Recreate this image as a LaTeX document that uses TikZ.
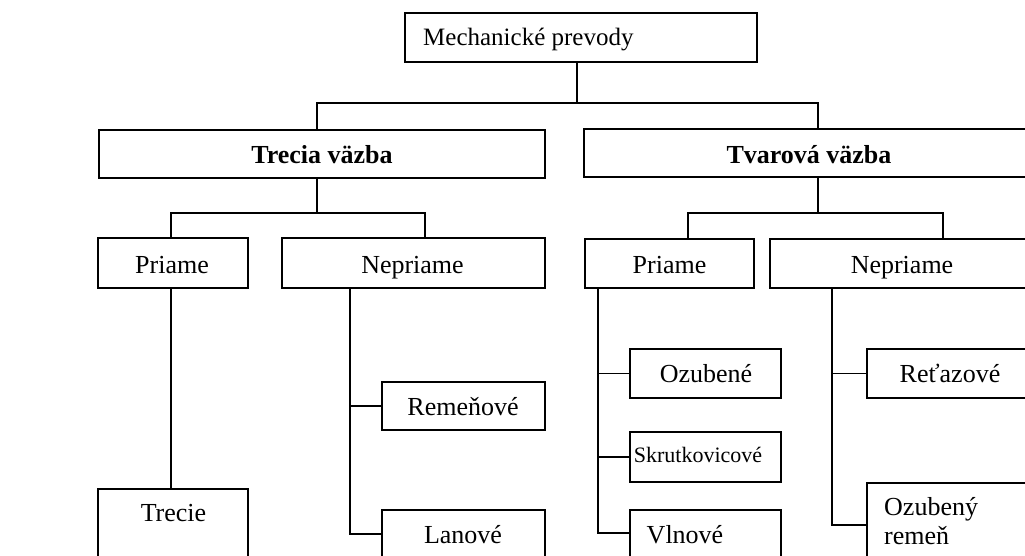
\documentclass[tikz,border=0pt]{standalone}
\usepackage{fontspec}
\setmainfont{Liberation Serif}
\begin{document}
\begin{tikzpicture}[x=1pt,y=-1pt,
  box/.style={draw=black,line width=1.2pt,inner sep=0pt,outer sep=0pt,anchor=north west},
  conn/.style={draw=black,line width=1.2pt},
  txt/.style={inner sep=0pt,anchor=base,font=\fontsize{26}{30}\selectfont},
  txtl/.style={txt,anchor=base west}]
\useasboundingbox (0,0) rectangle (1025,555);
\clip (0,0) rectangle (1025,555);
% boxes
\node[box,minimum width=352pt,minimum height=49pt] (top) at (405,13) {};
\node[box,minimum width=446pt,minimum height=48pt] (trecia) at (99,130) {};
\node[box,minimum width=452pt,minimum height=48pt] (tvar) at (584,129) {};
\node[box,minimum width=150pt,minimum height=50pt] (priL) at (98,238) {};
\node[box,minimum width=263pt,minimum height=50pt] (nepL) at (282,238) {};
\node[box,minimum width=169pt,minimum height=49pt] (priR) at (585,239) {};
\node[box,minimum width=264pt,minimum height=49pt] (nepR) at (770,239) {};
\node[box,minimum width=150pt,minimum height=120pt] (trecie) at (98,489) {};
\node[box,minimum width=163pt,minimum height=48pt] (reme) at (382,382) {};
\node[box,minimum width=163pt,minimum height=100pt] (lano) at (382,510) {};
\node[box,minimum width=151pt,minimum height=49pt] (ozub) at (630,349) {};
\node[box,minimum width=151pt,minimum height=50pt] (skrut) at (630,432) {};
\node[box,minimum width=151pt,minimum height=100pt] (vlno) at (630,510) {};
\node[box,minimum width=167pt,minimum height=49pt] (reta) at (867,349) {};
\node[box,minimum width=167pt,minimum height=120pt] (ozr) at (867,483) {};
% texts
\node[txtl,font=\fontsize{25}{30}\selectfont] (t-top) at (423,45) {Mechanické prevody};
\node[txt,font=\fontsize{26}{30}\selectfont\bfseries] (t-trecia) at (322,163) {Trecia väzba};
\node[txt,font=\fontsize{26}{30}\selectfont\bfseries] (t-tvar) at (809,163) {Tvarová väzba};
\node[txt] (t-priL) at (172,273) {Priame};
\node[txt] (t-nepL) at (412.5,273) {Nepriame};
\node[txt] (t-priR) at (669.5,273) {Priame};
\node[txt] (t-nepR) at (902,273) {Nepriame};
\node[txt] (t-trecie) at (173.5,521.5) {Trecie};
\node[txt] (t-reme) at (463,415) {Remeňové};
\node[txt] (t-lano) at (463,543) {Lanové};
\node[txt] (t-ozub) at (706,382) {Ozubené};
\node[txt,font=\fontsize{22}{26}\selectfont] (t-skrut) at (698,462) {Skrutkovicové};
\node[txt] (t-vlno) at (685,543) {Vlnové};
\node[txt] (t-reta) at (950,382) {Reťazové};
\node[txtl] (t-ozr1) at (884,515) {Ozubený};
\node[txtl] (t-ozr2) at (884,544) {remeň};
% junction coordinates
\coordinate (j1) at (577,103);
\coordinate (j1a) at (317,103);
\coordinate (j1b) at (818,103);
\coordinate (j2) at (317,213);
\coordinate (j2a) at (171,213);
\coordinate (j2b) at (425,213);
\coordinate (j3) at (818,213);
\coordinate (j3a) at (688,213);
\coordinate (j3b) at (943,213);
\coordinate (vL) at (171,0);
\coordinate (vN) at (350,0);
\coordinate (vP) at (598,0);
\coordinate (vR) at (832,0);
% connectors
\draw[conn] (top.south -| j1) -- (j1);
\draw[conn] (trecia.north -| j1a) -- (j1a) -- (j1b) -- (tvar.north -| j1b);
\draw[conn] (trecia.south -| j2) -- (j2);
\draw[conn] (priL.north -| j2a) -- (j2a) -- (j2b) -- (nepL.north -| j2b);
\draw[conn] (tvar.south -| j3) -- (j3);
\draw[conn] (priR.north -| j3a) -- (j3a) -- (j3b) -- (nepR.north -| j3b);
\draw[conn] (priL.south -| vL) -- (trecie.north -| vL);
\draw[conn] (nepL.south -| vN) |- (lano.west |- 0,534);
\draw[conn] (reme.west) -- (reme.west -| vN);
\draw[conn] (priR.south -| vP) |- (vlno.west |- 0,533);
\draw[conn] (ozub.west) -- (ozub.west -| vP);
\draw[conn] (skrut.west) -- (skrut.west -| vP);
\draw[conn] (nepR.south -| vR) |- (ozr.west |- 0,525);
\draw[conn] (reta.west) -- (reta.west -| vR);
\end{tikzpicture}
\end{document}
